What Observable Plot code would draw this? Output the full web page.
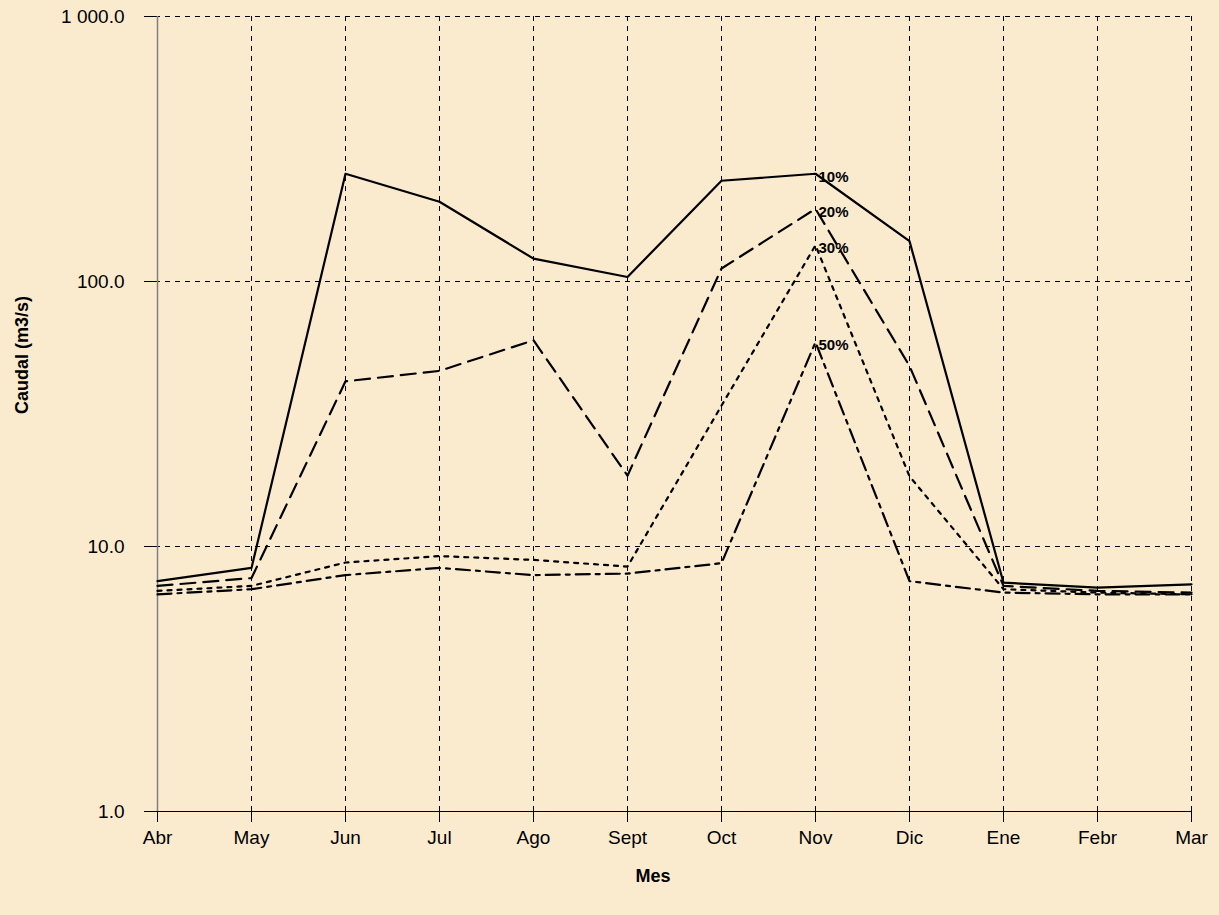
<!DOCTYPE html>
<html>
<head>
<meta charset="utf-8">
<script src="https://cdn.jsdelivr.net/npm/d3@7"></script>
<script src="https://cdn.jsdelivr.net/npm/@observablehq/plot@0.6"></script>
<style>
  html, body { margin: 0; padding: 0; background: #faebcf; }
  #chart svg { display: block; }
</style>
</head>
<body>
<div id="chart"></div>
<script>
const months = ["Abr","May","Jun","Jul","Ago","Sept","Oct","Nov","Dic","Ene","Febr","Mar"];
const q10 = [7.4, 8.3, 255, 200, 122, 104, 240, 255, 142, 7.3, 7.0, 7.2];
const q20 = [7.1, 7.6, 42, 46, 60, 18.5, 112, 188, 48, 7.1, 6.8, 6.7];
const q30 = [6.8, 7.1, 8.7, 9.2, 8.9, 8.4, 34, 137, 18.4, 6.9, 6.7, 6.6];
const q50 = [6.6, 6.9, 7.8, 8.3, 7.8, 7.9, 8.65, 59, 7.4, 6.7, 6.6, 6.6];
const seriesLabels = ["10%", "20%", "30%", "50%"];
const yTicks = [1, 10, 100, 1000];
const yTitle = "Caudal (m3/s)";
const xTitle = "Mes";

const series = [q10, q20, q30, q50];
const dashes = [null, "15,8", "4,6", "14,6,4,6"];
const data = months.map((m, i) => ({month: m, q10: q10[i], q20: q20[i], q30: q30[i], q50: q50[i]}));
const labelData = seriesLabels.map((l, k) => ({month: "Nov", v: series[k][7], label: l}));
const fmt = d => d3.format(",.1f")(d).replace(/,/g, " ");

const chart = Plot.plot({
  width: 1219,
  height: 915,
  marginLeft: 155,
  marginRight: 27,
  marginTop: 16,
  marginBottom: 104,
  style: {background: "#faebcf", fontFamily: "'Liberation Sans', Arial, sans-serif", fontSize: "19px", color: "#000"},
  x: {type: "point", domain: months, padding: 0},
  y: {type: "log", domain: [1, 1000]},
  marks: [
    Plot.ruleY([10, 100, 1000], {stroke: "#000", strokeDasharray: "5,5", strokeWidth: 1}),
    Plot.ruleX(months.slice(1), {stroke: "#000", strokeDasharray: "5,5", strokeWidth: 1}),
    Plot.axisY({ticks: yTicks, tickFormat: fmt, tickSize: 11, tickPadding: 20, label: null, stroke: "#000", fontSize: 19}),
    Plot.axisX({tickSize: 11, tickPadding: 8, label: null, stroke: "#000", fontSize: 19}),
    Plot.ruleY([1], {stroke: "#000", strokeWidth: 1}),
    Plot.ruleX(["Abr"], {stroke: "#808080", strokeWidth: 1.5}),
    ...series.map((s, k) => Plot.line(data, {
      x: "month", y: ["q10","q20","q30","q50"][k],
      stroke: "#000", strokeWidth: 2.2, strokeDasharray: dashes[k]
    })),
    Plot.text(labelData, {x: "month", y: "v", text: "label", textAnchor: "start", dx: 3, dy: 3, fontWeight: "bold", fontSize: 15}),
    Plot.text([yTitle], {frameAnchor: "left", dx: -133, rotate: -90, fontWeight: "bold", fontSize: 18}),
    Plot.text([xTitle], {frameAnchor: "bottom", dx: -21, dy: 70, fontWeight: "bold", fontSize: 18})
  ]
});
document.getElementById("chart").appendChild(chart);
</script>
</body>
</html>
